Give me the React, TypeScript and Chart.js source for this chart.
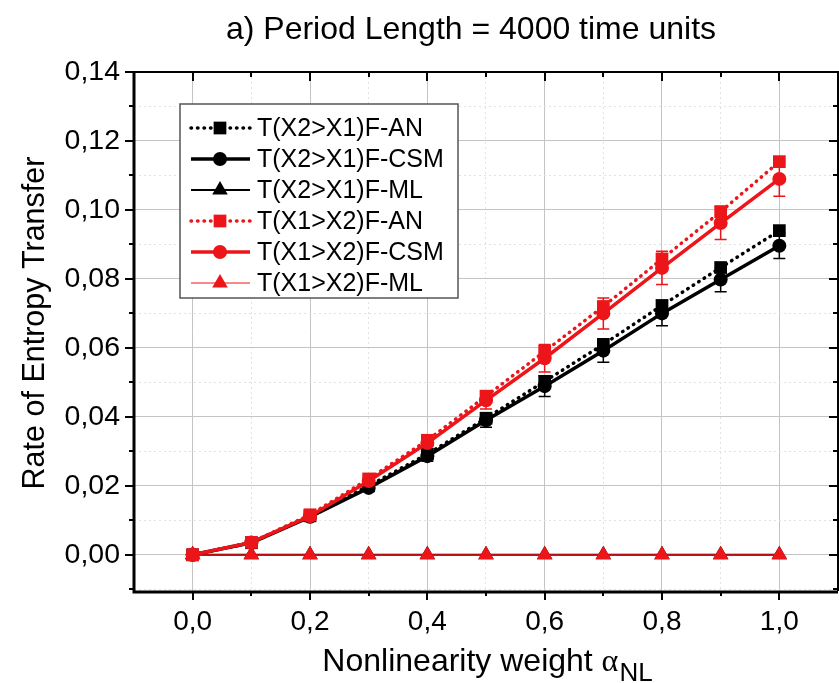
import React, { useEffect, useRef } from 'react';
import { Chart, registerables } from 'chart.js';

Chart.register(...registerables);

// ---------- data ----------
const xValues = [0, 0.1, 0.2, 0.3, 0.4, 0.5, 0.6, 0.7, 0.8, 0.9, 1.0];
const blackAN = [0, 0.0035, 0.0113, 0.0200, 0.0292, 0.0396, 0.0503, 0.0610, 0.0723, 0.0833, 0.0940];
const blackCSM = [0, 0.0035, 0.0110, 0.0194, 0.0286, 0.0390, 0.0489, 0.0592, 0.0700, 0.0798, 0.0896];
const blackCSMErr = [0, 0, 0.0005, 0.0010, 0.0015, 0.0020, 0.0030, 0.0034, 0.0036, 0.0035, 0.0037];
const blackML = [0, 0, 0, 0, 0, 0, 0, 0, 0, 0, 0];
const redAN = [0, 0.0036, 0.0116, 0.0220, 0.0332, 0.0460, 0.0590, 0.0720, 0.0858, 0.0995, 0.1140];
const redCSM = [0, 0.0036, 0.0112, 0.0214, 0.0324, 0.0448, 0.0570, 0.0700, 0.0832, 0.0962, 0.1090];
const redCSMErr = [0, 0, 0.0005, 0.0010, 0.0018, 0.0025, 0.0040, 0.0045, 0.0048, 0.0048, 0.0050];
const redML = [0, 0, 0, 0, 0, 0, 0, 0, 0, 0, 0];

const seriesNames = [
  'T(X2>X1)F-AN',
  'T(X2>X1)F-CSM',
  'T(X2>X1)F-ML',
  'T(X1>X2)F-AN',
  'T(X1>X2)F-CSM',
  'T(X1>X2)F-ML',
];

const xMin = -0.1;
const xMax = 1.1;
const yMin = -0.0105;
const yMax = 0.14;
const xTicks = [0, 0.1, 0.2, 0.3, 0.4, 0.5, 0.6, 0.7, 0.8, 0.9, 1.0];
const yTicks = [-0.01, 0, 0.01, 0.02, 0.03, 0.04, 0.05, 0.06, 0.07, 0.08, 0.09, 0.1, 0.11, 0.12, 0.13, 0.14];

const titleText = 'a) Period Length = 4000 time units';
const yTitle = 'Rate of Entropy Transfer';
const xTitleMain = 'Nonlinearity weight ';
const xTitleAlpha = 'α';
const xTitleSub = 'NL';

const RED = '#ec1519';
const BLACK = '#000000';
const FONT = '"Liberation Sans", Arial, sans-serif';

const isMajorX = (v: number) => Math.abs(v * 10 - Math.round(v * 10)) < 1e-6 && Math.round(v * 10) % 2 === 0 && v >= 0 && v <= 1.0001;
const isMajorY = (v: number) => Math.round(v * 100) % 2 === 0 && v >= 0;

const pts = (arr: number[]) => arr.map((y, i) => ({ x: xValues[i], y }));

type Sty = { color: string; dotted: boolean; width: number; marker: string; radius: number };
const styles: Sty[] = [
  { color: BLACK, dotted: true, width: 3.5, marker: 'rect', radius: 9 },
  { color: BLACK, dotted: false, width: 3.5, marker: 'circle', radius: 7 },
  { color: BLACK, dotted: false, width: 2, marker: 'triangle', radius: 9 },
  { color: RED, dotted: true, width: 3.5, marker: 'rect', radius: 9 },
  { color: RED, dotted: false, width: 3.5, marker: 'circle', radius: 7 },
  { color: RED, dotted: false, width: 1.2, marker: 'triangle', radius: 9 },
];
const seriesData = [blackAN, blackCSM, blackML, redAN, redCSM, redML];

function drawMarker(ctx: CanvasRenderingContext2D, kind: string, x: number, y: number, r: number, color: string) {
  ctx.save();
  ctx.fillStyle = color;
  ctx.beginPath();
  if (kind === 'rect') {
    const s = r * Math.SQRT1_2;
    ctx.rect(x - s, y - s, 2 * s, 2 * s);
  } else if (kind === 'circle') {
    ctx.arc(x, y, r, 0, Math.PI * 2);
  } else {
    let a = 0;
    ctx.moveTo(x + Math.sin(a) * r, y - Math.cos(a) * r);
    a += (2 * Math.PI) / 3;
    ctx.lineTo(x + Math.sin(a) * r, y - Math.cos(a) * r);
    a += (2 * Math.PI) / 3;
    ctx.lineTo(x + Math.sin(a) * r, y - Math.cos(a) * r);
    ctx.closePath();
  }
  ctx.fill();
  ctx.restore();
}

const decorPlugin = {
  id: 'decor',
  beforeDatasetsDraw(chart: any) {
    const { ctx, scales } = chart;
    const xs = scales.x;
    const ys = scales.y;
    const errs: [number[], number[], string][] = [
      [blackCSM, blackCSMErr, BLACK],
      [redCSM, redCSMErr, RED],
    ];
    ctx.save();
    ctx.lineWidth = 1.5;
    for (const [vals, err, col] of errs) {
      ctx.strokeStyle = col;
      vals.forEach((v, i) => {
        if (!err[i]) return;
        const px = xs.getPixelForValue(xValues[i]);
        const top = ys.getPixelForValue(v + err[i]);
        const bot = ys.getPixelForValue(v - err[i]);
        ctx.beginPath();
        ctx.moveTo(px, top);
        ctx.lineTo(px, bot);
        ctx.moveTo(px - 6, top);
        ctx.lineTo(px + 6, top);
        ctx.moveTo(px - 6, bot);
        ctx.lineTo(px + 6, bot);
        ctx.stroke();
      });
    }
    ctx.restore();
  },
  afterDraw(chart: any) {
    const { ctx, chartArea, scales } = chart;
    const xs = scales.x;
    const ys = scales.y;
    const { left, right, top, bottom } = chartArea;
    ctx.save();
    // frame
    ctx.strokeStyle = '#000';
    ctx.lineWidth = 2;
    ctx.beginPath();
    ctx.moveTo(left, top);
    ctx.lineTo(right, top);
    ctx.lineTo(right, bottom);
    ctx.stroke();
    ctx.lineWidth = 3;
    ctx.beginPath();
    ctx.moveTo(left, top - 1);
    ctx.lineTo(left, bottom + 1);
    ctx.lineTo(right, bottom + 1);
    ctx.stroke();
    // tick marks
    ctx.lineWidth = 2;
    ctx.beginPath();
    for (const v of yTicks) {
      const py = Math.round(ys.getPixelForValue(v));
      const len = isMajorY(v) ? 9 : 5;
      ctx.moveTo(left - len, py);
      ctx.lineTo(left, py);
      ctx.moveTo(right - len, py);
      ctx.lineTo(right, py);
    }
    for (const v of xTicks) {
      const px = Math.round(xs.getPixelForValue(v));
      const len = isMajorX(v) ? 9 : 5;
      ctx.moveTo(px, bottom);
      ctx.lineTo(px, bottom + len);
      ctx.moveTo(px, top);
      ctx.lineTo(px, top + len);
    }
    ctx.stroke();

    // title
    ctx.fillStyle = '#000';
    ctx.font = `32px ${FONT}`;
    ctx.textAlign = 'center';
    ctx.textBaseline = 'middle';
    ctx.fillText(titleText, 471, 30);

    // y title
    ctx.save();
    ctx.translate(36, 323);
    ctx.rotate(-Math.PI / 2);
    ctx.font = `30.5px ${FONT}`;
    ctx.fillText(yTitle, 0, 0);
    ctx.restore();

    // x title with subscript
    ctx.textAlign = 'left';
    ctx.textBaseline = 'alphabetic';
    const mainFont = `32px ${FONT}`;
    const alphaFont = `32px "Liberation Serif", "DejaVu Serif", serif`;
    const subFont = `26px ${FONT}`;
    ctx.font = mainFont;
    const w1 = ctx.measureText(xTitleMain).width;
    ctx.font = alphaFont;
    const w2 = ctx.measureText(xTitleAlpha).width;
    ctx.font = subFont;
    const w3 = ctx.measureText(xTitleSub).width;
    const total = w1 + w2 + w3;
    let cx = 487 - total / 2;
    const base = 671;
    ctx.font = mainFont;
    ctx.fillText(xTitleMain, cx, base);
    cx += w1;
    ctx.font = alphaFont;
    ctx.fillText(xTitleAlpha, cx, base);
    cx += w2 + 1;
    ctx.font = subFont;
    ctx.fillText(xTitleSub, cx, base + 10);

    // legend
    const lx = 180, ly = 104, lw = 278, lh = 194;
    ctx.fillStyle = '#fff';
    ctx.fillRect(lx, ly, lw, lh);
    ctx.strokeStyle = '#555';
    ctx.lineWidth = 1.5;
    ctx.strokeRect(lx, ly, lw, lh);
    ctx.font = `25px ${FONT}`;
    ctx.textBaseline = 'middle';
    ctx.textAlign = 'left';
    styles.forEach((s, i) => {
      const ry = 128 + i * 31;
      ctx.save();
      ctx.strokeStyle = s.color;
      ctx.lineWidth = s.width;
      if (s.dotted) {
        ctx.setLineDash([0.5, 6]);
        ctx.lineCap = 'round';
      }
      ctx.beginPath();
      ctx.moveTo(191, ry);
      ctx.lineTo(250, ry);
      ctx.stroke();
      ctx.restore();
      drawMarker(ctx, s.marker, 220, ry, s.radius, s.color);
      ctx.fillStyle = '#000';
      ctx.fillText(seriesNames[i], 257, ry + 1);
    });
    ctx.restore();
  },
};

export default function App() {
  const ref = useRef<HTMLCanvasElement | null>(null);
  useEffect(() => {
    document.body.style.margin = '0';
    const canvas = ref.current;
    if (!canvas) return;
    const datasets = styles.map((s, i) => ({
      label: seriesNames[i],
      data: pts(seriesData[i]),
      borderColor: s.color,
      backgroundColor: s.color,
      borderWidth: s.width,
      borderDash: s.dotted ? [0.5, 6] : [],
      borderCapStyle: s.dotted ? 'round' : 'butt',
      pointStyle: s.marker,
      pointRadius: s.radius,
      pointBorderWidth: 0,
      pointBackgroundColor: s.color,
      tension: 0,
      order: s.color === RED ? 0 : 1,
    }));
    const chart = new Chart(canvas, {
      type: 'line',
      data: { datasets } as any,
      options: {
        responsive: false,
        animation: false,
        devicePixelRatio: 1,
        layout: { autoPadding: false, padding: { top: 72, right: 1, left: 0, bottom: 0 } },
        plugins: {
          legend: { display: false },
          title: { display: false },
          tooltip: { enabled: false },
        },
        scales: {
          x: {
            type: 'linear',
            min: xMin,
            max: xMax,
            afterBuildTicks: (s: any) => {
              s.ticks = [xMin, ...xTicks, xMax].map((v) => ({ value: v }));
            },
            afterFit: (s: any) => {
              s.height = 92;
              s.paddingLeft = 0;
              s.paddingRight = 0;
            },
            grid: {
              drawTicks: false,
              color: (c: any) => (isMajorX(c.tick.value) ? '#c4c4c4' : '#e2e2e2'),
              lineWidth: 1,
            },
            border: {
              display: false,
              dash: (c: any) => (c.tick && isMajorX(c.tick.value) ? [] : [2, 3]),
            },
            ticks: {
              autoSkip: false,
              maxRotation: 0,
              padding: 14,
              color: '#000',
              font: { family: FONT, size: 28 },
              callback: (v: any) => (isMajorX(Number(v)) ? Number(v).toFixed(1).replace('.', ',') : ''),
            },
          },
          y: {
            type: 'linear',
            min: yMin,
            max: yMax,
            afterBuildTicks: (s: any) => {
              s.ticks = yTicks.map((v) => ({ value: v }));
            },
            afterFit: (s: any) => {
              s.width = 134;
              s.paddingTop = 0;
              s.paddingBottom = 0;
            },
            grid: {
              drawTicks: false,
              color: (c: any) => (isMajorY(c.tick.value) ? '#c4c4c4' : '#e2e2e2'),
              lineWidth: 1,
            },
            border: {
              display: false,
              dash: (c: any) => (c.tick && isMajorY(c.tick.value) ? [] : [2, 3]),
            },
            ticks: {
              autoSkip: false,
              padding: 14,
              color: '#000',
              font: { family: FONT, size: 28.5 },
              callback: (v: any) => (isMajorY(Number(v)) ? Number(v).toFixed(2).replace('.', ',') : ''),
            },
          },
        },
      } as any,
      plugins: [decorPlugin],
    });
    return () => chart.destroy();
  }, []);
  return (
    <div style={{ width: 839, height: 683, background: '#fff' }}>
      <canvas ref={ref} width={839} height={683} style={{ display: 'block' }} />
    </div>
  );
}
